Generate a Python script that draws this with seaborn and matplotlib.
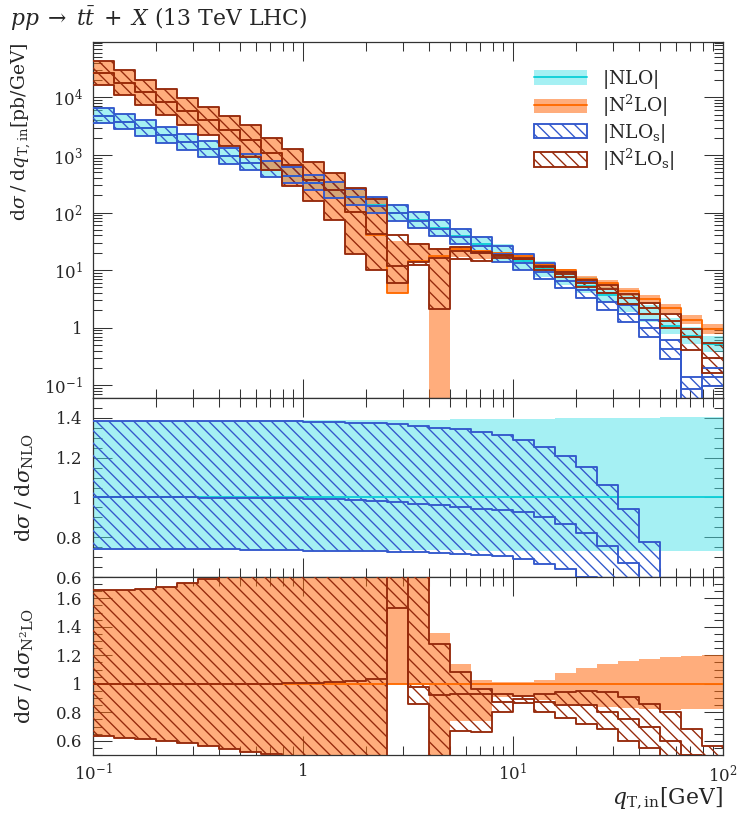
import numpy as np
import matplotlib
matplotlib.use('Agg')
import matplotlib.pyplot as plt
import seaborn as sns
from matplotlib.patches import Patch
from matplotlib.lines import Line2D
from matplotlib.ticker import LogLocator, NullFormatter, MultipleLocator

# ---------------- data ----------------
edges = [0.1, 0.1259, 0.1585, 0.1995, 0.2512, 0.3162, 0.3981, 0.5012, 0.631, 0.7943,
         1.0, 1.259, 1.585, 1.995, 2.512, 3.162, 3.981, 5.012, 6.31, 7.943,
         10.0, 12.59, 15.85, 19.95, 25.12, 31.62, 39.81, 50.12, 63.1, 79.43, 100.0]

# central values in the top panel [pb/GeV]
nlo_central = [4800, 3800, 2900, 2200, 1660, 1260, 955, 740, 560, 440,
               330, 245, 186, 135, 100, 74, 54, 39, 28, 20,
               14.5, 10.5, 7.6, 5.4, 3.7, 2.6, 1.74, 1.05, 0.72, 0.52]
n2lo_central = [26300, 17800, 12300, 8300, 5750, 3980, 2690, 1800, 1070, 660,
                367, 245, 102, 40.7, 3.94, 14.3, 17.8, 22.9, 21.4, 20.0,
                17.8, 12.8, 9.9, 7.1, 5.9, 4.3, 3.1, 2.16, 1.38, 0.95]

# ratios to NLO (middle panel)
nlo_r_hi = [1.385, 1.385, 1.385, 1.385, 1.385, 1.385, 1.386, 1.386, 1.387, 1.387,
            1.388, 1.388, 1.389, 1.389, 1.39, 1.39, 1.391, 1.392, 1.393, 1.394,
            1.395, 1.396, 1.397, 1.398, 1.399, 1.4, 1.401, 1.402, 1.403, 1.404]
nlo_r_lo = [0.735, 0.735, 0.735, 0.735, 0.735, 0.735, 0.735, 0.735, 0.735, 0.735,
            0.735, 0.735, 0.735, 0.735, 0.734, 0.734, 0.734, 0.734, 0.733, 0.733,
            0.733, 0.733, 0.732, 0.732, 0.732, 0.731, 0.731, 0.731, 0.73, 0.73]
nlos_r_hi = [1.385, 1.385, 1.385, 1.385, 1.385, 1.385, 1.385, 1.384, 1.383, 1.382,
             1.381, 1.378, 1.375, 1.372, 1.368, 1.36, 1.35, 1.345, 1.33, 1.313,
             1.29, 1.255, 1.21, 1.153, 1.064, 0.943, 0.777, 0.59, 0.19, 0.38]
nlos_r_mid = [1.0, 1.0, 1.0, 1.0, 1.0, 0.999, 0.998, 0.997, 0.996, 0.995,
              0.993, 0.99, 0.985, 0.98, 0.977, 0.968, 0.96, 0.95, 0.94, 0.935,
              0.926, 0.90, 0.867, 0.82, 0.757, 0.668, 0.56, 0.40, 0.12, 0.27]
nlos_r_lo = [0.742, 0.742, 0.741, 0.741, 0.740, 0.740, 0.739, 0.738, 0.737, 0.736,
             0.733, 0.732, 0.731, 0.729, 0.727, 0.724, 0.72, 0.716, 0.71, 0.705,
             0.69, 0.665, 0.64, 0.60, 0.55, 0.48, 0.40, 0.27, 0.07, 0.19]

# ratios to N2LO (bottom panel)
n2lo_r_hi = [1.66, 1.66, 1.666, 1.683, 1.707, 1.737, 1.78, 1.82, 1.86, 1.9,
             2.05, 1.95, 2.57, 4.2, 8.0, 2.1, 1.36, 1.14, 1.03, 1.016,
             1.016, 1.03, 1.078, 1.11, 1.141, 1.158, 1.177, 1.188, 1.195, 1.2]
n2lo_r_lo = [0.635, 0.616, 0.61, 0.60, 0.587, 0.564, 0.54, 0.52, 0.505, 0.44,
             0.44, 0.3, 0.19, 0.245, 1.0, 0.99, 0.001, 0.74, 0.736, 0.905,
             0.905, 0.889, 0.859, 0.847, 0.835, 0.828, 0.823, 0.818, 0.823, 0.823]
n2los_r_hi = [1.66, 1.66, 1.666, 1.683, 1.707, 1.737, 1.78, 1.82, 1.86, 1.9,
              2.05, 1.95, 2.57, 4.2, 10.4, 2.0, 1.283, 1.082, 0.965, 0.93,
              0.914, 0.93, 0.945, 0.95, 0.94, 0.905, 0.86, 0.80, 0.68, 0.56]
n2los_r_mid = [1.0, 1.0, 1.0, 1.0, 1.0, 1.0, 1.0, 1.0, 1.0, 1.005,
               1.005, 1.01, 1.02, 1.035, 3.0, 0.98, 0.92, 0.93, 0.93, 0.87,
               0.89, 0.87, 0.85, 0.85, 0.80, 0.75, 0.70, 0.60, 0.50, 0.31]
n2los_r_lo = [0.635, 0.616, 0.61, 0.60, 0.587, 0.564, 0.54, 0.52, 0.505, 0.44,
              0.44, 0.3, 0.19, 0.245, 1.53, 0.86, 0.12, 0.67, 0.663, 0.80,
              0.865, 0.80, 0.76, 0.72, 0.68, 0.60, 0.55, 0.45, 0.30, 0.17]

x_ticks = [0.1, 1, 10, 100]
x_ticklabels = ['$10^{-1}$', '1', '$10^{1}$', '$10^{2}$']
main_yticks = [0.1, 1, 10, 100, 1000, 10000]
main_yticklabels = ['$10^{-1}$', '1', '$10^{1}$', '$10^{2}$', '$10^{3}$', '$10^{4}$']
r1_ticks = [0.6, 0.8, 1.0, 1.2, 1.4]
r1_ticklabels = ['0.6', '0.8', '1', '1.2', '1.4']
r2_ticks = [0.6, 0.8, 1.0, 1.2, 1.4, 1.6]
r2_ticklabels = ['0.6', '0.8', '1', '1.2', '1.4', '1.6']

# ---------------- style ----------------
sns.set_theme(style='ticks')
plt.rcParams['font.family'] = ['DejaVu Serif']
plt.rcParams['mathtext.fontset'] = 'dejavuserif'
plt.rcParams['hatch.linewidth'] = 1.3
plt.rcParams['axes.linewidth'] = 1.2
plt.rcParams['axes.edgecolor'] = '#333333'

CYAN_FILL, CYAN_LINE = '#4de3e8', '#10d0d8'
ORANGE_FILL, ORANGE_LINE = '#ff6a10', '#ff6a00'
BLUE, DARKRED = '#3358cc', '#962a0c'
LW = 1.8
HATCH = '\\\\'

DPI = 75
fig = plt.figure(figsize=(747 / DPI, 815 / DPI), dpi=DPI)
L, W = 93 / 747, 630 / 747
ax0 = fig.add_axes([L, 1 - 398 / 815, W, 356 / 815])
ax1 = fig.add_axes([L, 1 - 577 / 815, W, 179 / 815])
ax2 = fig.add_axes([L, 1 - 755 / 815, W, 178 / 815])

e = np.array(edges)


def ext(v):
    v = np.asarray(v, float)
    return np.append(v, v[-1])


def band(ax, lo, hi, color, alpha, z):
    ax.fill_between(e, ext(lo), ext(hi), step='post', facecolor=color,
                    alpha=alpha, linewidth=0, zorder=z)


def hatch(ax, lo, hi, color, z):
    ax.fill_between(e, ext(lo), ext(hi), step='post', facecolor='none',
                    edgecolor=color, hatch=HATCH, linewidth=0, zorder=z)


def steps(ax, v, color, z, lw=LW):
    sns.lineplot(x=e, y=ext(v), drawstyle='steps-post', color=color,
                 linewidth=lw, ax=ax, zorder=z, sort=False, errorbar=None)


nc = np.array(nlo_central)
n2c = np.array(n2lo_central)

# ---- main panel ----
band(ax0, nc * np.array(nlo_r_lo), nc * np.array(nlo_r_hi), CYAN_FILL, 0.5, 1)
band(ax0, n2c * np.array(n2lo_r_lo), n2c * np.array(n2lo_r_hi), ORANGE_FILL, 0.55, 2)
hatch(ax0, nc * np.array(nlos_r_lo), nc * np.array(nlos_r_hi), BLUE, 3)
hatch(ax0, n2c * np.array(n2los_r_lo), n2c * np.array(n2los_r_hi), DARKRED, 4)
steps(ax0, nc, CYAN_LINE, 5)
steps(ax0, n2c, ORANGE_LINE, 6)
for r in (nlos_r_lo, nlos_r_mid, nlos_r_hi):
    steps(ax0, nc * np.array(r), BLUE, 7)
for r in (n2los_r_lo, n2los_r_mid, n2los_r_hi):
    steps(ax0, n2c * np.array(r), DARKRED, 8)

# ---- ratio to NLO ----
band(ax1, nlo_r_lo, nlo_r_hi, CYAN_FILL, 0.5, 1)
hatch(ax1, nlos_r_lo, nlos_r_hi, BLUE, 3)
steps(ax1, nc / nc, CYAN_LINE, 5)
for r in (nlos_r_lo, nlos_r_mid, nlos_r_hi):
    steps(ax1, r, BLUE, 7)

# ---- ratio to N2LO ----
band(ax2, n2lo_r_lo, n2lo_r_hi, ORANGE_FILL, 0.55, 2)
hatch(ax2, n2los_r_lo, n2los_r_hi, DARKRED, 4)
steps(ax2, n2c / n2c, ORANGE_LINE, 6)
for r in (n2los_r_lo, n2los_r_mid, n2los_r_hi):
    steps(ax2, r, DARKRED, 8)

# ---- axes formatting ----
for ax in (ax0, ax1, ax2):
    ax.set_xscale('log')
    ax.set_xlim(0.1, 100)
    ax.set_xticks(x_ticks)
    ax.xaxis.set_minor_locator(LogLocator(base=10, subs=np.arange(2, 10)))
    ax.xaxis.set_minor_formatter(NullFormatter())
    ax.tick_params(which='both', direction='in', top=True, right=True,
                   width=1.0, color='#333333', labelsize=16)
    ax.tick_params(axis='y', which='both', pad=10)
    ax.tick_params(axis='x', which='both', pad=8)
    ax.tick_params(which='major', length=18)
    ax.tick_params(which='minor', length=9)
    ax.set_xlabel('')
    ax.set_ylabel('')
    for s in ax.spines.values():
        s.set_visible(True)

ax0.set_yscale('log')
ax0.set_ylim(0.06, 9.2e4)
ax0.set_yticks(main_yticks)
ax0.set_yticklabels(main_yticklabels)
ax0.yaxis.set_minor_locator(LogLocator(base=10, subs=np.arange(2, 10)))
ax0.yaxis.set_minor_formatter(NullFormatter())
ax0.set_xticklabels([])

ax1.set_ylim(0.6, 1.5)
ax1.set_yticks(r1_ticks)
ax1.set_yticklabels(r1_ticklabels)
ax1.yaxis.set_minor_locator(MultipleLocator(0.05))
ax1.set_xticklabels([])

ax2.set_ylim(0.5, 1.75)
ax2.set_yticks(r2_ticks)
ax2.set_yticklabels(r2_ticklabels)
ax2.yaxis.set_minor_locator(MultipleLocator(0.05))
ax2.set_xticklabels(x_ticklabels)

ax0.set_ylabel(r'$\mathrm{d}\sigma\;/\;\mathrm{d}q_{\mathrm{T,in}}[\mathrm{pb/GeV}]$',
               fontsize=18, loc='top')
ax1.set_ylabel(r'$\mathrm{d}\sigma\;/\;\mathrm{d}\sigma_{\mathrm{NLO}}$', fontsize=20)
ax2.set_ylabel(r'$\mathrm{d}\sigma\;/\;\mathrm{d}\sigma_{\mathrm{N^2LO}}$', fontsize=20)
ax0.yaxis.set_label_coords(-0.095, 1.0)
ax1.yaxis.set_label_coords(-0.09, 0.5)
ax2.yaxis.set_label_coords(-0.09, 0.5)
ax2.set_xlabel(r'$q_{\mathrm{T,in}}[\mathrm{GeV}]$', fontsize=21, loc='right', labelpad=0)

fig.text(10 / 747, 1 - 19 / 815, r'$pp\;\to\;t\bar{t}\;+\;X$ (13 TeV LHC)',
         fontsize=21, va='center', ha='left')

handles = [
    (Patch(facecolor=CYAN_FILL, alpha=0.5, linewidth=0), Line2D([], [], color=CYAN_LINE, lw=LW)),
    (Patch(facecolor=ORANGE_FILL, alpha=0.55, linewidth=0), Line2D([], [], color=ORANGE_LINE, lw=LW)),
    Patch(facecolor='none', edgecolor=BLUE, hatch=HATCH, linewidth=LW),
    Patch(facecolor='none', edgecolor=DARKRED, hatch=HATCH, linewidth=LW),
]
labels = [r'$|\mathrm{NLO}|$', r'$|\mathrm{N^2LO}|$', r'$|\mathrm{NLO_s}|$', r'$|\mathrm{N^2LO_s}|$']
ax0.legend(handles, labels, loc='upper left', bbox_to_anchor=(0.70, 0.927),
           frameon=False, fontsize=18, handlelength=2.8, handleheight=0.8,
           labelspacing=0.12, handletextpad=0.8, borderpad=0, borderaxespad=0)

fig.savefig('out.png', dpi=DPI)
